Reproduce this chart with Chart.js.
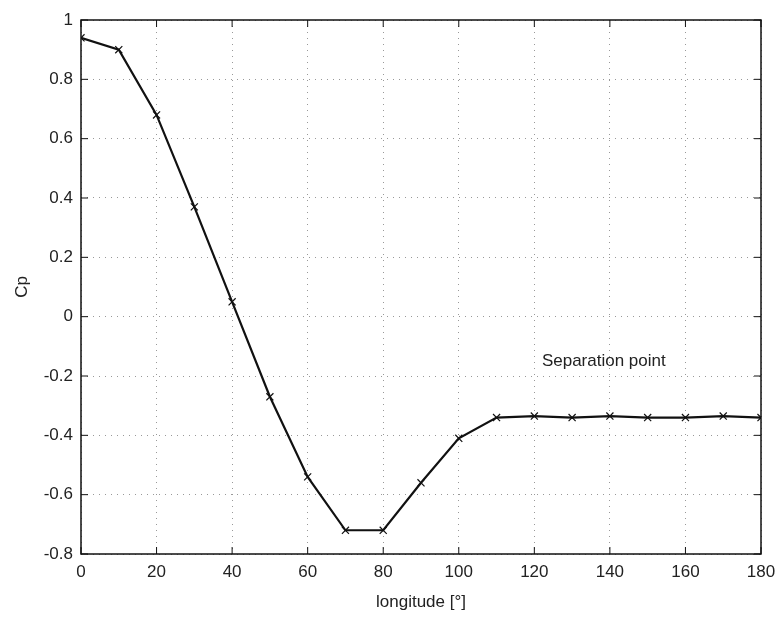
<!DOCTYPE html>
<html>
<head>
<meta charset="utf-8">
<script src="https://cdn.jsdelivr.net/npm/chart.js@4/dist/chart.umd.min.js"></script>
<style>
  html, body { margin: 0; padding: 0; background: #fff; }
  #wrap { width: 784px; height: 617px; }
</style>
</head>
<body>
<div id="wrap"><canvas id="cpChart" width="784" height="617"></canvas></div>
<script>
const longitudes = [0, 10, 20, 30, 40, 50, 60, 70, 80, 90, 100, 110, 120, 130, 140, 150, 160, 170, 180];
const cpValues = [0.94, 0.90, 0.68, 0.37, 0.05, -0.27, -0.54, -0.72, -0.72, -0.56, -0.41, -0.34, -0.335, -0.34, -0.335, -0.34, -0.34, -0.335, -0.34];
const xTicks = [0, 20, 40, 60, 80, 100, 120, 140, 160, 180];
const yTicks = [-0.8, -0.6, -0.4, -0.2, 0, 0.2, 0.4, 0.6, 0.8, 1];
const noteText = 'Separation point';
const notePos = { x: 122, y: -0.15 };

const FONT = 'Liberation Sans, Arial, sans-serif';

// box + inward ticks like the matlab axes, plus the text note
const axesBox = {
    id: 'axesBox',
    afterDraw(chart) {
        const { ctx, chartArea: a, scales } = chart;
        const xs = scales.x, ys = scales.y;
        ctx.save();
        ctx.strokeStyle = '#111';
        ctx.lineWidth = 1.5;
        ctx.strokeRect(a.left, a.top, a.right - a.left, a.bottom - a.top);
        ctx.lineWidth = 1;
        const len = 7;
        ctx.beginPath();
        xTicks.forEach(v => {
            const px = xs.getPixelForValue(v);
            ctx.moveTo(px, a.bottom); ctx.lineTo(px, a.bottom - len);
            ctx.moveTo(px, a.top); ctx.lineTo(px, a.top + len);
        });
        yTicks.forEach(v => {
            const py = ys.getPixelForValue(v);
            ctx.moveTo(a.left, py); ctx.lineTo(a.left + len, py);
            ctx.moveTo(a.right, py); ctx.lineTo(a.right - len, py);
        });
        ctx.stroke();

        ctx.fillStyle = '#222';
        ctx.font = '17px ' + FONT;
        ctx.textBaseline = 'middle';
        ctx.textAlign = 'left';
        ctx.fillText(noteText, xs.getPixelForValue(notePos.x), ys.getPixelForValue(notePos.y));
        ctx.restore();
    }
};

new Chart(document.getElementById('cpChart'), {
    type: 'line',
    data: {
        labels: longitudes,
        datasets: [{
            data: longitudes.map((x, i) => ({ x: x, y: cpValues[i] })),
            borderColor: '#111',
            borderWidth: 2.2,
            pointStyle: 'crossRot',
            pointRadius: 5,
            pointBorderColor: '#111',
            pointBorderWidth: 1.2,
            fill: false,
            tension: 0
        }]
    },
    options: {
        responsive: false,
        animation: false,
        layout: { padding: { top: 20, right: 23, left: 8, bottom: 0 } },
        plugins: { legend: { display: false }, tooltip: { enabled: false } },
        scales: {
            x: {
                type: 'linear',
                min: 0, max: 180,
                afterBuildTicks: s => { s.ticks = xTicks.map(v => ({ value: v })); },
                afterFit: s => { s.height = 63; },
                border: { display: false, dash: [1, 5] },
                grid: { color: '#999', drawTicks: false, lineWidth: 1 },
                ticks: { color: '#222', padding: 8, font: { family: FONT, size: 17 }, maxRotation: 0 },
                title: { display: true, text: 'longitude [°]', color: '#222', padding: { top: 2 }, font: { family: FONT, size: 17 } }
            },
            y: {
                min: -0.8, max: 1,
                afterBuildTicks: s => { s.ticks = yTicks.map(v => ({ value: v })); },
                afterFit: s => { s.width = 73; },
                border: { display: false, dash: [1, 5] },
                grid: { color: '#999', drawTicks: false, lineWidth: 1 },
                ticks: {
                    color: '#222', padding: 8, font: { family: FONT, size: 17 },
                    callback: v => String(Math.round(v * 10) / 10)
                },
                title: { display: true, text: 'Cp', color: '#222', padding: { bottom: 4 }, font: { family: FONT, size: 17 } }
            }
        }
    },
    plugins: [axesBox]
});
</script>
</body>
</html>
